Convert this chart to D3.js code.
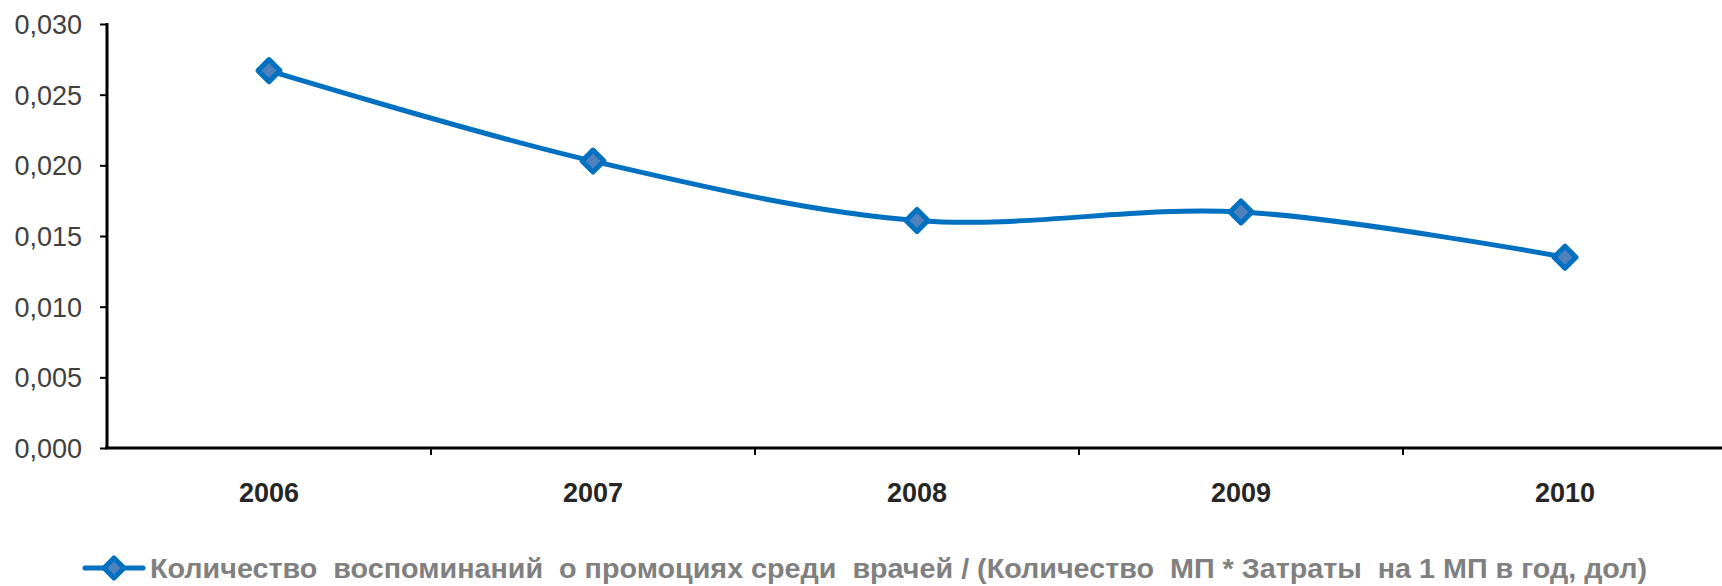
<!DOCTYPE html>
<html><head><meta charset="utf-8">
<script src="https://cdn.jsdelivr.net/npm/d3@7"></script>
<style>body{margin:0;background:#fff}svg{display:block}text{font-family:"Liberation Sans",Arial,sans-serif}</style>
</head><body><svg id="c" width="1722" height="586"></svg>
<script>
const categories = ["2006","2007","2008","2009","2010"];
const values = [0.0267, 0.0203, 0.0161, 0.0167, 0.0135];
const yTicks = [0, 0.005, 0.010, 0.015, 0.020, 0.025, 0.030];
const seriesName = "Количество  воспоминаний  о промоциях среди  врачей / (Количество  МП * Затраты  на 1 МП в год, дол)";

const svg = d3.select("#c");
const x = d3.scaleBand().domain(categories).range([107, 1727]);
const y = d3.scaleLinear().domain([0, 0.03]).range([448, 24]);
const fmt = d => d3.format(".3f")(d).replace(".", ",");

// y axis
const ya = svg.append("g").attr("transform","translate(107,0)")
  .call(d3.axisLeft(y).tickValues(yTicks).tickFormat(fmt).tickSize(7).tickPadding(18));
ya.attr("font-size",null).attr("font-family",null);
ya.select(".domain").attr("stroke","#000").attr("stroke-width",3).attr("d","M0,"+(y(0.03)-1)+"V"+y(0));
ya.selectAll(".tick line").attr("stroke","#000").attr("stroke-width",2);
ya.selectAll(".tick text").style("font-size","27px").attr("fill","#404040").attr("dy","0.35em");

// x axis
const xa = svg.append("g").attr("transform","translate(0,448)")
  .call(d3.axisBottom(x).tickSize(0).tickPadding(45));
xa.attr("font-size",null).attr("font-family",null);
xa.select(".domain").attr("stroke","#000").attr("stroke-width",3).attr("d","M105,0H1727");
xa.selectAll(".tick text").style("font-size","27px").attr("font-weight","bold").attr("fill","#262626").attr("dy","0.35em");
const bounds = categories.map(c => x(c));
xa.selectAll(".bt").data(bounds.slice(1)).enter().append("line")
  .attr("x1",d=>d).attr("x2",d=>d).attr("y1",0).attr("y2",7).attr("stroke","#000").attr("stroke-width",2);

// line
const line = d3.line().x((d,i)=>x(categories[i])+x.bandwidth()/2).y(d=>y(d)).curve(d3.curveCatmullRom.alpha(0.5));
svg.append("path").datum(values).attr("d",line).attr("fill","none").attr("stroke","#0070C0").attr("stroke-width",5);

const diamond = (cx,cy,r) => `M${cx},${cy-r}L${cx+r},${cy}L${cx},${cy+r}L${cx-r},${cy}Z`;
svg.selectAll(".pt").data(values).enter().append("path")
  .attr("d",(d,i)=>diamond(x(categories[i])+x.bandwidth()/2, y(d), 11))
  .attr("fill","#4F81BD").attr("stroke","#0070C0").attr("stroke-width",5).attr("stroke-linejoin","round");

// legend
const ly = 568;
svg.append("line").attr("x1",85).attr("x2",143).attr("y1",ly).attr("y2",ly)
  .attr("stroke","#0070C0").attr("stroke-width",5).attr("stroke-linecap","round");
svg.append("path").attr("d",diamond(114,ly,10)).attr("fill","#4F81BD").attr("stroke","#0070C0").attr("stroke-width",5).attr("stroke-linejoin","round");
svg.append("text").attr("x",150).attr("y",ly).attr("dy","0.36em").style("font-size","28px").attr("font-weight","bold")
  .attr("fill","#808080").style("white-space","pre").attr("textLength",1497).attr("lengthAdjust","spacingAndGlyphs").text(seriesName);
</script></body></html>
